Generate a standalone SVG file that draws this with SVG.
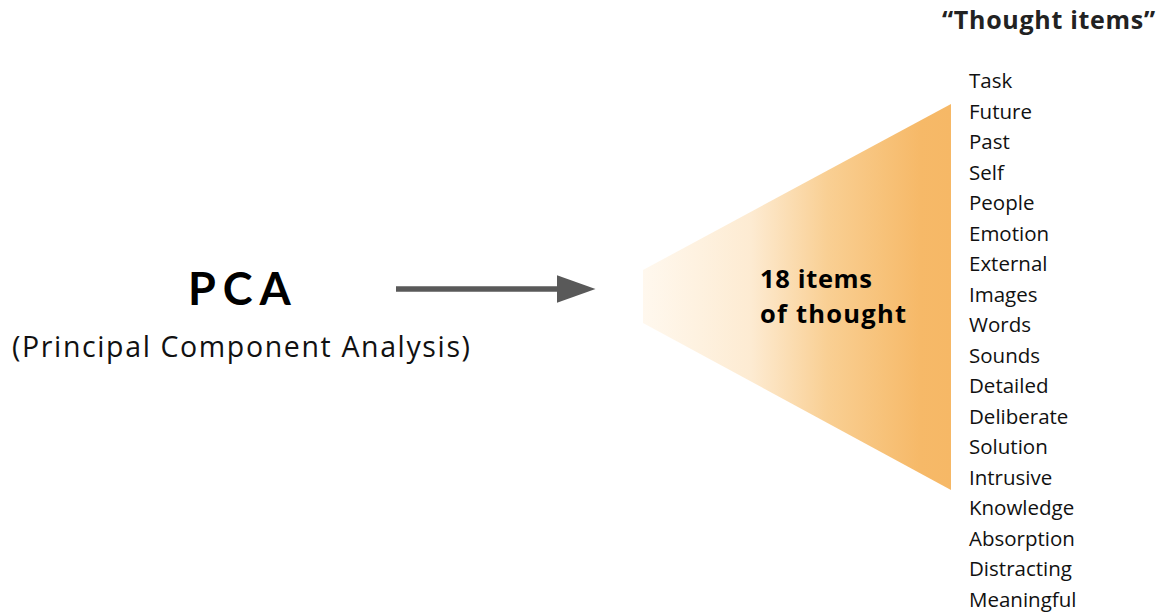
<svg xmlns="http://www.w3.org/2000/svg" width="1161" height="613" viewBox="0 0 1161 613">
  <style>
    .title { font-family: Lato, "Open Sans", sans-serif; font-size: 45px; font-weight: 700; fill: #000; letter-spacing: 7px; }
    .sub { font-family: "Open Sans", Lato, sans-serif; font-size: 28.5px; fill: #111; }
    .inner { font-family: "Open Sans", Lato, sans-serif; font-size: 25.5px; font-weight: 700; fill: #000; }
    .head { font-family: "Open Sans", Lato, sans-serif; font-size: 25px; font-weight: 700; fill: #222; }
    .item { font-family: "Open Sans", Lato, sans-serif; font-size: 20.5px; fill: #111; }
  </style>
  <defs>
    <linearGradient id="fade" x1="643" y1="0" x2="951" y2="0" gradientUnits="userSpaceOnUse">
      <stop offset="0" stop-color="#fff8ee"/>
      <stop offset="0.35" stop-color="#fdebd2"/>
      <stop offset="0.6" stop-color="#f9cf93"/>
      <stop offset="0.9" stop-color="#f6b968"/>
      <stop offset="1" stop-color="#f6b866"/>
    </linearGradient>
    <marker id="head" markerWidth="7" markerHeight="5" refX="0" refY="2.5" orient="auto" markerUnits="strokeWidth">
      <path d="M0,0 L7,2.5 L0,5 Z" fill="#595959"/>
    </marker>
  </defs>

  <rect width="1161" height="613" fill="#fff"/>

  <g id="pca">
    <text class="title" x="188" y="305">PCA</text>
    <text class="sub" x="12" y="357" textLength="458">(Principal Component Analysis)</text>
  </g>

  <g id="connectors">
    <line x1="396" y1="289" x2="557" y2="289" stroke="#595959" stroke-width="5.5" marker-end="url(#head)"/>
  </g>

  <g id="funnel">
    <polygon points="643,270 951,104 951,490 643,323" fill="url(#fade)"/>
    <text class="inner" x="760" y="288" textLength="112">18 items</text>
    <text class="inner" x="760" y="323" textLength="146">of thought</text>
  </g>

  <g id="thought-items">
    <text class="head" x="942" y="29" textLength="213">“Thought items”</text>
    <text class="item" x="969" y="88">Task</text>
    <text class="item" x="969" y="118.5">Future</text>
    <text class="item" x="969" y="149">Past</text>
    <text class="item" x="969" y="179.5">Self</text>
    <text class="item" x="969" y="210">People</text>
    <text class="item" x="969" y="240.5">Emotion</text>
    <text class="item" x="969" y="271">External</text>
    <text class="item" x="969" y="301.5">Images</text>
    <text class="item" x="969" y="332">Words</text>
    <text class="item" x="969" y="362.5">Sounds</text>
    <text class="item" x="969" y="393">Detailed</text>
    <text class="item" x="969" y="423.5">Deliberate</text>
    <text class="item" x="969" y="454">Solution</text>
    <text class="item" x="969" y="484.5">Intrusive</text>
    <text class="item" x="969" y="515">Knowledge</text>
    <text class="item" x="969" y="545.5">Absorption</text>
    <text class="item" x="969" y="576">Distracting</text>
    <text class="item" x="969" y="606.5">Meaningful</text>
  </g>
</svg>
